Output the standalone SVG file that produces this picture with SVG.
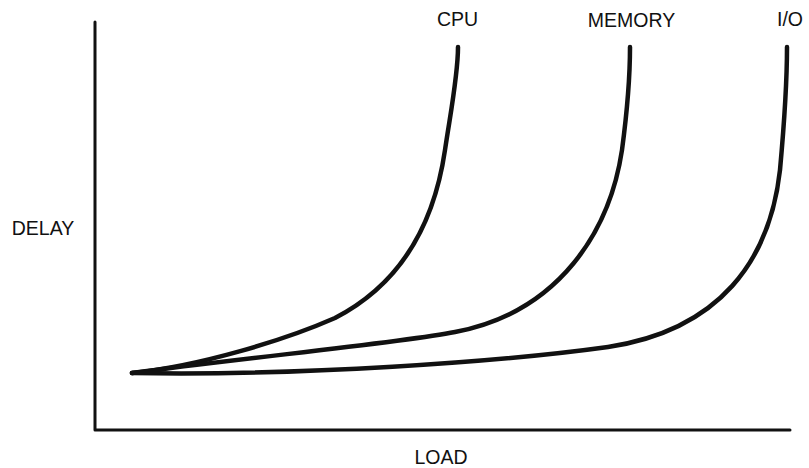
<svg xmlns="http://www.w3.org/2000/svg" width="809" height="468" viewBox="0 0 809 468">
<style>
.ax{fill:none;stroke:#111;stroke-width:3;stroke-linecap:round;stroke-linejoin:round}
.cv{fill:none;stroke:#111;stroke-width:4.5;stroke-linecap:round}
.lb{font-family:"Liberation Sans",Arial,sans-serif;font-size:19.5px;fill:#111;text-anchor:middle}
</style>
<rect width="809" height="468" fill="#fff"/>
<g id="axes">
<path class="ax" d="M95,22 V430 H790"/>
</g>
<g id="curves">
<path id="cpu" class="cv" d="M132,373 C200,366 285,340 335,318 C395,287 433,232 445,150 C451,110 458,75 458,47"/>
<path id="memory" class="cv" d="M132,373 C250,357 400,343 455,332 C560,312 610,230 622,150 C628,105 630,75 630,47"/>
<path id="io" class="cv" d="M132,373 C300,376 500,362 608,347 C720,330 770,260 780,170 C785,115 787,75 787,47"/>
</g>
<g id="labels">
<text class="lb" x="457.5" y="26">CPU</text>
<text class="lb" x="631.5" y="26.5">MEMORY</text>
<text class="lb" x="790" y="26">I/O</text>
<text class="lb" x="43" y="235">DELAY</text>
<text class="lb" x="441" y="464">LOAD</text>
</g>
</svg>
